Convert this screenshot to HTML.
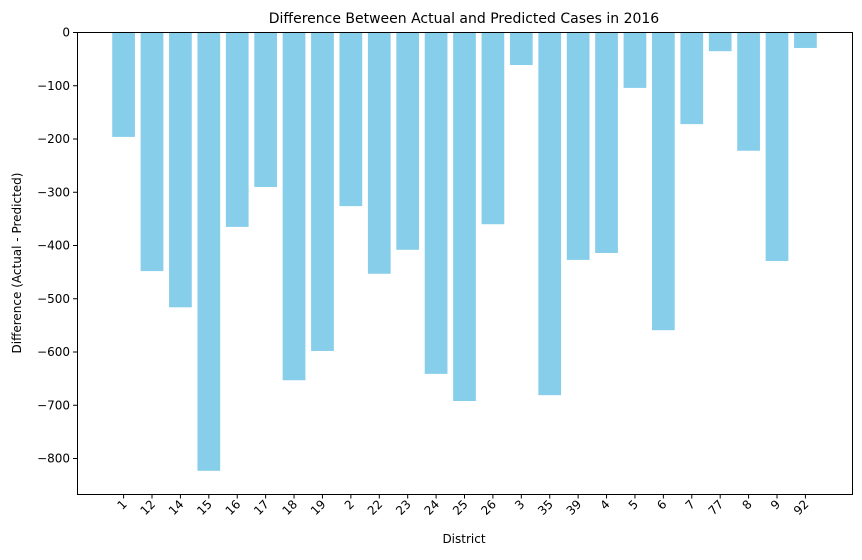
<!DOCTYPE html>
<html><head><meta charset="utf-8"><style>
body{margin:0;background:#fff;font-family:"DejaVu Sans","Liberation Sans",sans-serif;}
</style></head><body>
<svg id="chart" width="862" height="556" xmlns="http://www.w3.org/2000/svg" font-family="DejaVu Sans, Liberation Sans, sans-serif">
<rect width="862" height="556" fill="#fff"/>
<g id="bars"></g>
<g id="yticks"></g>
<g id="xticks"></g>
<rect x="77.5" y="32.5" width="775" height="462" fill="none" stroke="#000" stroke-width="1"/>
<text x="464" y="23" text-anchor="middle" font-size="14">Difference Between Actual and Predicted Cases in 2016</text>
<text x="464" y="543" text-anchor="middle" font-size="12">District</text>
<text transform="translate(21,263) rotate(-90)" text-anchor="middle" font-size="12">Difference (Actual - Predicted)</text>
</svg>
<script>
const categories=["1","12","14","15","16","17","18","19","2","22","23","24","25","26","3","35","39","4","5","6","7","77","8","9","92"];
const values=[-197,-449,-517,-824,-366,-291,-654,-599,-327,-454,-409,-642,-693,-361,-62,-682,-428,-415,-105,-560,-173,-36,-223,-430,-30];
const yTicks=[0,-100,-200,-300,-400,-500,-600,-700,-800];
const NS="http://www.w3.org/2000/svg";
const plotLeft=77,plotRight=852,plotTop=32;
const n=categories.length;
const xmin=-0.4-0.05*(n-1+0.8),xmax=n-1+0.4+0.05*(n-1+0.8);
const xs=v=>plotLeft+(v-xmin)/(xmax-xmin)*(plotRight-plotLeft);
const ys=v=>plotTop+(-v)*0.5325;
const bw=(xs(0.8)-xs(0));
const bars=document.getElementById('bars'),xt=document.getElementById('xticks'),yt=document.getElementById('yticks');
function mk(t,a){const e=document.createElementNS(NS,t);for(const k in a)e.setAttribute(k,a[k]);return e;}
values.forEach((v,i)=>{
 const r=mk('rect',{x:xs(i)-bw/2,y:ys(0),width:bw,height:ys(v)-ys(0),fill:'#87ceeb'});
 
 
 bars.appendChild(r);
 const x=xs(i);
 const tk=mk('line',{x1:x,x2:x,y1:494.5,y2:498.5,stroke:'#000'});
 
 
 xt.appendChild(tk);
 const tx=mk('text',{x:0,y:0,'font-size':12,'text-anchor':'end',transform:`translate(${x+4},${505}) rotate(-45)`});
 
 
 tx.textContent=categories[i];xt.appendChild(tx);
});
yTicks.forEach(v=>{
 const y=ys(v)+0.5;
 const tk=mk('line',{x1:73,x2:77.5,y1:y,y2:y,stroke:'#000'});
 
 
 yt.appendChild(tk);
 const tx=mk('text',{x:70,y:y+4,'font-size':12,'text-anchor':'end'});
 
 
 tx.textContent=v<0?'\u2212'+(-v):String(v);yt.appendChild(tx);
});
</script>
</body></html>
